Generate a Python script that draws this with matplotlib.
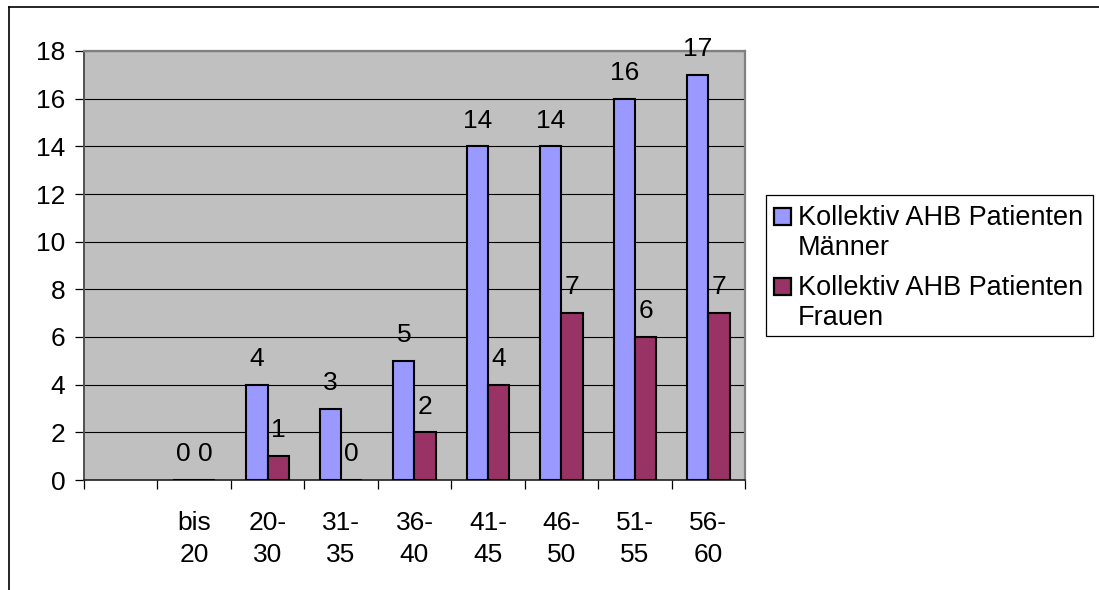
import numpy as np
import matplotlib
matplotlib.use("Agg")
import matplotlib.pyplot as plt
from matplotlib.patches import Rectangle
from matplotlib.lines import Line2D

plt.rcParams['font.family'] = ['Liberation Sans', 'DejaVu Sans']

# Age groups (the first slot is an empty row of the source table)
categories = ["", "bis\n20", "20-\n30", "31-\n35", "36-\n40", "41-\n45", "46-\n50", "51-\n55", "56-\n60"]
men = [np.nan, 0, 4, 3, 5, 14, 14, 16, 17]
women = [np.nan, 0, 1, 0, 2, 4, 7, 6, 7]
series_names = ["Kollektiv AHB Patienten\nMänner", "Kollektiv AHB Patienten\nFrauen"]
y_ticks = [0, 2, 4, 6, 8, 10, 12, 14, 16, 18]

color_men = "#9999FF"
color_women = "#993366"
plot_bg = "#C0C0C0"
fs = 19
fs_leg = 19.5

W, H = 1099, 590
fig = plt.figure(figsize=(W / 100, H / 100), dpi=100)
ax = fig.add_axes([84 / W, 1 - 480 / H, 661 / W, 429 / H])
ax.set_facecolor(plot_bg)

x = np.arange(len(categories))
bw = 0.29
for vals, off, col in ((men, -bw / 2, color_men), (women, bw / 2, color_women)):
    vals = np.array(vals, dtype=float)
    ax.bar(x + off, vals, width=bw, color=col, edgecolor="black", linewidth=1.5, zorder=3)
    for xi, v in zip(x + off, vals):
        if np.isnan(v):
            continue
        ax.annotate(f"{int(v)}", (xi, v), xytext=(0, 13.5), textcoords="offset points",
                    ha="center", va="baseline", fontsize=fs, color="black", zorder=4)

ax.set_xlim(-0.5, len(categories) - 0.5)
ax.set_ylim(0, 18)
ax.set_yticks(y_ticks)
ax.set_yticklabels([str(t) for t in y_ticks], fontsize=fs)
ax.yaxis.grid(True, color="black", linewidth=0.8, zorder=1)
ax.set_axisbelow(True)

# Category labels centered, tick marks at the category boundaries
ax.set_xticks(x)
ax.set_xticklabels(categories, fontsize=fs, linespacing=1.42)
ax.tick_params(axis="x", which="major", length=0, pad=22)
ax.set_xticks(np.arange(len(categories) + 1) - 0.5, minor=True)
ax.tick_params(axis="x", which="minor", length=6.5, width=0.9, color="black", direction="out")
ax.tick_params(axis="y", length=6.5, width=0.9, color="black", direction="out", pad=7)

for side in ("top", "right"):
    ax.spines[side].set_color("#808080")
    ax.spines[side].set_linewidth(1.6)
ax.spines["left"].set_color("#505050")
ax.spines["left"].set_linewidth(1.4)
ax.spines["bottom"].set_color("#202020")
ax.spines["bottom"].set_linewidth(1.2)


# Legend box drawn in figure pixels: key square sits beside the first text line
def px(xp, yp):
    return xp / W, 1 - yp / H


fig.add_artist(Rectangle(px(766, 336), 327 / W, 141 / H, transform=fig.transFigure,
                         facecolor="white", edgecolor="black", linewidth=0.9))
entry_top = [225, 295]   # baseline of first line of each entry
for name, col, base in zip(series_names, (color_men, color_women), entry_top):
    fig.add_artist(Rectangle(px(774, base), 17 / W, 17 / H, transform=fig.transFigure,
                             facecolor=col, edgecolor="black", linewidth=1.6))
    for i, line in enumerate(name.split("\n")):
        fig.text(*px(798, base + 30 * i), line, fontsize=fs_leg, ha="left", va="baseline",
                 color="black")

# Outer chart frame (top and left edges)
fig.add_artist(Line2D([9 / W, 1], [1 - 7 / H, 1 - 7 / H], transform=fig.transFigure,
                      color="black", linewidth=1.2))
fig.add_artist(Line2D([9 / W, 9 / W], [0, 1 - 7 / H], transform=fig.transFigure,
                      color="black", linewidth=1.2))

fig.savefig("out.png", dpi=100, facecolor="white")
